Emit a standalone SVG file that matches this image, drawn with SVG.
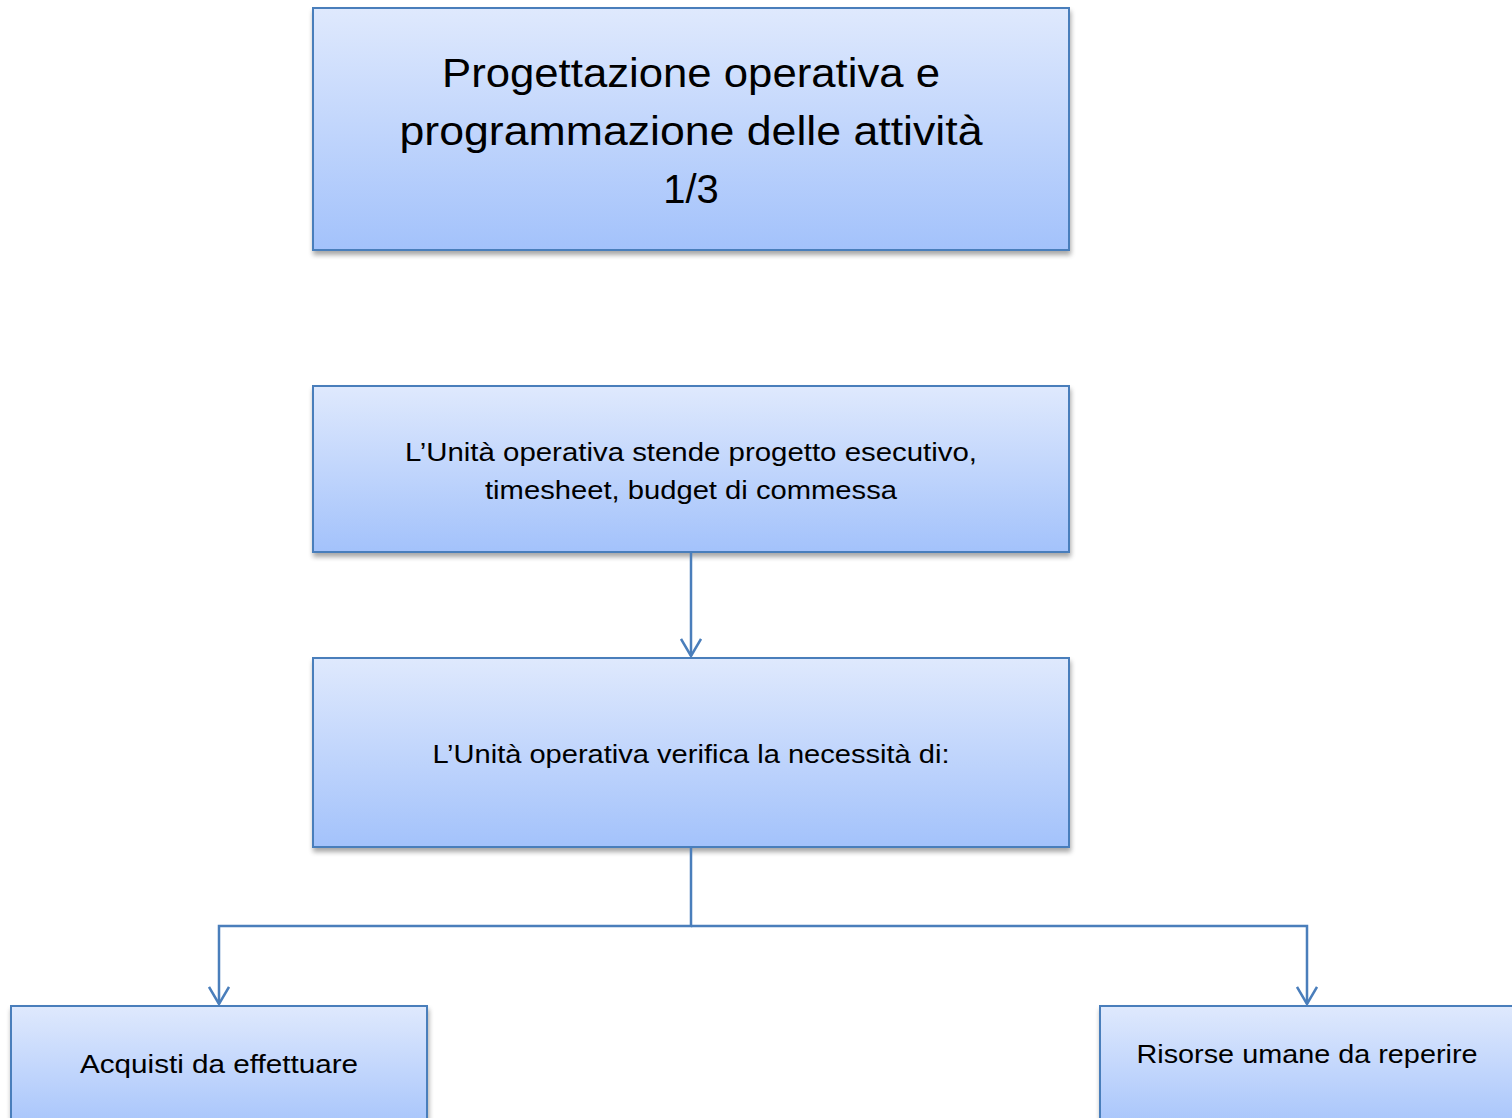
<svg xmlns="http://www.w3.org/2000/svg" width="1512" height="1118" viewBox="0 0 1512 1118">
<defs>
<linearGradient id="g" x1="0" y1="0" x2="0" y2="1">
<stop offset="0" stop-color="#dfe9fd"/>
<stop offset="1" stop-color="#a3c2fb"/>
</linearGradient>
<filter id="sh" x="-5%" y="-5%" width="110%" height="120%">
<feGaussianBlur in="SourceAlpha" stdDeviation="2.5"/>
<feOffset dx="1" dy="4" result="b"/>
<feComponentTransfer><feFuncA type="linear" slope="0.35"/></feComponentTransfer>
<feMerge><feMergeNode/><feMergeNode in="SourceGraphic"/></feMerge>
</filter>
<marker id="arr" viewBox="0 0 22 22" refX="20" refY="11" markerWidth="22" markerHeight="22" markerUnits="userSpaceOnUse" orient="auto">
<path d="M3 1 L20 11 L3 21" fill="none" stroke="#4a7ebb" stroke-width="2.5"/>
</marker>
</defs>
<style>
.box{fill:url(#g);stroke:#4a7ebb;stroke-width:2;filter:url(#sh)}
.t{font-family:"Liberation Sans",Arial,sans-serif;fill:#000;text-anchor:middle}
.c{fill:none;stroke:#4a7ebb;stroke-width:2.5}
</style>
<rect width="1512" height="1118" fill="#fff"/>
<g id="title">
<rect class="box" x="313" y="8" width="756" height="242"/>
<text class="t" font-size="40" x="691" y="87" textLength="498" lengthAdjust="spacingAndGlyphs">Progettazione operativa e</text>
<text class="t" font-size="40" x="691" y="145" textLength="583" lengthAdjust="spacingAndGlyphs">programmazione delle attività</text>
<text class="t" font-size="40" x="691" y="203">1/3</text>
</g>
<g id="n1">
<rect class="box" x="313" y="386" width="756" height="166"/>
<text class="t" font-size="25" x="691" y="461" textLength="572" lengthAdjust="spacingAndGlyphs">L’Unità operativa stende progetto esecutivo,</text>
<text class="t" font-size="25" x="691" y="499" textLength="412" lengthAdjust="spacingAndGlyphs">timesheet, budget di commessa</text>
</g>
<g id="n2">
<rect class="box" x="313" y="658" width="756" height="189"/>
<text class="t" font-size="25" x="691" y="763" textLength="517" lengthAdjust="spacingAndGlyphs">L’Unità operativa verifica la necessità di:</text>
</g>
<g id="n3">
<rect class="box" x="11" y="1006" width="416" height="130"/>
<text class="t" font-size="26" x="219" y="1073" textLength="278" lengthAdjust="spacingAndGlyphs">Acquisti da effettuare</text>
</g>
<g id="n4">
<rect class="box" x="1100" y="1006" width="430" height="130"/>
<text class="t" font-size="26" x="1307" y="1063" textLength="341" lengthAdjust="spacingAndGlyphs">Risorse umane da reperire</text>
</g>
<g id="connectors">
<path class="c" d="M691 552 V656" marker-end="url(#arr)"/>
<path class="c" d="M691 847 V926 H219 V1004" marker-end="url(#arr)"/>
<path class="c" d="M691 926 H1307 V1004" marker-end="url(#arr)"/>
</g>
</svg>
